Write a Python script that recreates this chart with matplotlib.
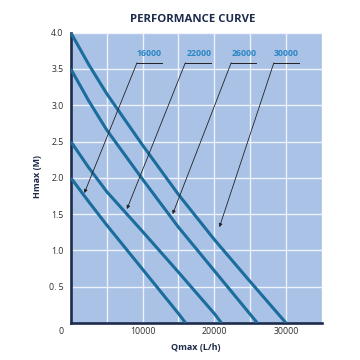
import matplotlib
matplotlib.use("Agg")
import matplotlib.pyplot as plt

# ---- data ----
models = ["16000", "22000", "26000", "30000"]
q_16000 = [0, 2500, 5000, 10000, 15000, 16000]
h_16000 = [2.0, 1.67, 1.35, 0.74, 0.13, 0.0]
q_22000 = [0, 2500, 5000, 10000, 15000, 20000, 21000]
h_22000 = [2.5, 2.14, 1.81, 1.26, 0.70, 0.13, 0.0]
q_26000 = [0, 2500, 5000, 10000, 15000, 20000, 26000]
h_26000 = [3.5, 3.06, 2.66, 1.98, 1.32, 0.72, 0.0]
q_30000 = [0, 2500, 5000, 10000, 15000, 20000, 25000, 30000]
h_30000 = [4.0, 3.56, 3.16, 2.45, 1.77, 1.15, 0.57, 0.0]

x_ticks = [10000, 20000, 30000]
x_tick_labels = ["10000", "20000", "30000"]
y_ticks = [0.5, 1.0, 1.5, 2.0, 2.5, 3.0, 3.5, 4.0]
y_tick_labels = ["0. 5", "1.0", "1.5", "2.0", "2.5", "3.0", "3.5", "4.0"]

series = [(q_16000, h_16000), (q_22000, h_22000), (q_26000, h_26000), (q_30000, h_30000)]

# ---- style ----
BG = "#a9c2e6"
LINE = "#1a6d9c"
NAVY = "#1d2b4c"
LABEL = "#2a86c4"
TXT = "#2e2e2e"
FONT = "Open Sans"

fig = plt.figure(figsize=(3.6, 3.6), dpi=100)
fig.patch.set_facecolor("white")
ax = fig.add_axes([0.1968, 0.1028, 0.6974, 0.8064])
ax.set_facecolor(BG)

ax.set_xlim(0, 35000)
ax.set_ylim(0, 4)

ax.set_xticks(x_ticks)
ax.set_xticklabels(x_tick_labels, fontfamily=FONT, fontsize=6.3, color=TXT)
ax.set_yticks(y_ticks)
ax.set_yticklabels(y_tick_labels, fontfamily=FONT, fontsize=6.3, color=TXT)
ax.set_xticks(range(5000, 35001, 5000), minor=True)
ax.set_yticks([0.5 * i for i in range(1, 9)], minor=True)
ax.grid(True, which="both", color="#eef3fb", linewidth=1.0)
ax.set_axisbelow(True)

ax.tick_params(axis="both", which="both", length=0)
ax.tick_params(axis="x", pad=3.2)
ax.tick_params(axis="y", pad=5.2)

for s in ["top", "right"]:
    ax.spines[s].set_visible(False)
for s in ["left", "bottom"]:
    ax.spines[s].set_color(NAVY)
    ax.spines[s].set_linewidth(1.9)

for q, h in series:
    ax.plot(q, h, color=LINE, linewidth=2.2, solid_capstyle="butt",
            solid_joinstyle="round", zorder=3)

# origin label
ax.text(-1400, -0.12, "0", fontfamily=FONT, fontsize=6.3, color=TXT,
        ha="center", va="center", clip_on=False)

# callouts: label x centre, underline left/right, arrow tip (x, y)
callouts = [
    (10940, 9220, 12710, 1880, 1.79),
    (17920, 15960, 19550, 7820, 1.57),
    (24200, 22350, 25880, 14190, 1.50),
    (30070, 28300, 31790, 20710, 1.32),
]
for name, (cx, x0, x1, tx, ty) in zip(models, callouts):
    ax.text(cx, 3.72, name, fontfamily=FONT, fontweight="bold", fontsize=6.3,
            color=LABEL, ha="center", va="center", zorder=5)
    ax.plot([x0, x1], [3.585, 3.585], color="#222222", linewidth=0.7, zorder=4)
    ax.annotate("", xy=(tx, ty), xytext=(x0, 3.585),
                arrowprops=dict(arrowstyle="-|>", color="#222222", lw=0.6,
                                mutation_scale=5, shrinkA=0, shrinkB=0),
                zorder=4)

fig.text(193 / 360, 1 - 20 / 360, "PERFORMANCE CURVE", fontfamily=FONT,
         fontweight="bold", fontsize=8.2, color=NAVY, ha="center", va="center")
fig.text(196 / 360, 1 - 347 / 360, "Qmax (L/h)", fontfamily=FONT,
         fontweight="bold", fontsize=6.5, color=NAVY, ha="center", va="center")
fig.text(37 / 360, 1 - 177 / 360, "Hmax (M)", fontfamily=FONT,
         fontweight="bold", fontsize=6.5, color=NAVY, ha="center", va="center",
         rotation=90)

fig.savefig("out.png", dpi=100)
